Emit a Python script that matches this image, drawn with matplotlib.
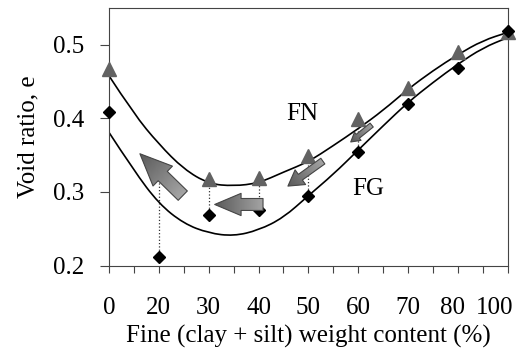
import matplotlib
matplotlib.use('Agg')
import matplotlib.pyplot as plt
import numpy as np
from matplotlib.patches import FancyArrowPatch, PathPatch
from matplotlib.path import Path
from matplotlib.transforms import ScaledTranslation

plt.rcParams['font.family'] = ['Liberation Serif', 'DejaVu Serif']

# ── data ──
fine_labels = ['0', '20', '30', '40', '50', '60', '70', '80', '100']
fn_void = [0.467, 0.326, 0.317, 0.319, 0.349, 0.399, 0.441, 0.491, 0.517]
fg_void = [0.409, 0.212, 0.269, 0.275, 0.294, 0.354, 0.419, 0.469, 0.519]

# trend curves, sampled every half category
curve_pos = [i * 0.5 for i in range(17)]
fn_curve = [0.458, 0.406, 0.365, 0.331, 0.311, 0.308, 0.312, 0.327, 0.341,
            0.363, 0.386, 0.411, 0.440, 0.465, 0.487, 0.506, 0.517]
fg_curve = [0.381, 0.329, 0.284, 0.257, 0.244, 0.240, 0.248, 0.265, 0.295,
            0.324, 0.357, 0.390, 0.422, 0.449, 0.474, 0.496, 0.510]

# arrows: tail -> tip, tail width / head width / head length (pt)
arrows = [
    ((1.48, 0.295), (0.62, 0.352), 9.4, 20, 23),
    ((3.09, 0.283), (2.12, 0.283), 8.6, 16, 19),
    ((4.29, 0.342), (3.59, 0.308), 5.0, 13, 11),
    ((5.27, 0.391), (4.85, 0.368), 3.6, 7.5, 6.5),
]


def smooth_path(xs, ys):
    # quadratic bezier through the midpoints, read points act as controls
    pts = list(zip(xs, ys))
    verts = [pts[0]]
    codes = [Path.MOVETO]
    for i in range(1, len(pts) - 1):
        mid = ((pts[i][0] + pts[i + 1][0]) / 2, (pts[i][1] + pts[i + 1][1]) / 2)
        verts += [pts[i], mid]
        codes += [Path.CURVE3, Path.CURVE3]
    verts.append(pts[-1])
    codes.append(Path.LINETO)
    return Path(verts, codes)


def block_arrow(tail, tip, tw, hw, hl, **kw):
    return FancyArrowPatch(
        tail, tip,
        arrowstyle=f'simple,head_width={hw},head_length={hl},tail_width={tw}',
        mutation_scale=1, shrinkA=0, shrinkB=0, **kw)


fig = plt.figure(figsize=(5.24, 3.54), dpi=100)
ax = fig.add_axes([0.208, 0.25, 0.761, 0.727])

x = list(range(len(fine_labels)))

# dotted drops between the two series
for i in range(1, 6):
    ax.plot([x[i], x[i]], [fg_void[i], fn_void[i]], ':', color='#333333',
            lw=0.9, zorder=1)

for ys in (fn_curve, fg_curve):
    ax.add_patch(PathPatch(smooth_path(curve_pos, ys), facecolor='none',
                           edgecolor='black', lw=1.2, zorder=2))

ax.plot(x, fn_void, '^', color='#626262', ms=10.5, ls='none',
        clip_on=False, zorder=3)
ax.plot(x, fg_void, 'D', color='black', ms=6, ls='none',
        clip_on=False, zorder=4)

# gradient block arrows (darker at the tip, paler at the tail)
px_x, px_y = 49.9, 736.0   # rough pixels per data unit, for the gradient only
for (tail, tip, tw, hw, hl) in arrows:
    base = block_arrow(tail, tip, tw, hw, hl, facecolor='#8c8c8c',
                       edgecolor='none', zorder=4.5)
    ax.add_patch(base)
    ax.add_patch(block_arrow(tail, tip, tw, hw, hl, facecolor='none',
                             edgecolor='#474747', lw=0.8, zorder=6))
    pad = 0.3
    x0, x1 = min(tail[0], tip[0]) - pad, max(tail[0], tip[0]) + pad
    y0, y1 = min(tail[1], tip[1]) - pad * 0.1, max(tail[1], tip[1]) + pad * 0.1
    gx, gy = np.meshgrid(np.linspace(x0, x1, 80), np.linspace(y0, y1, 80))
    dx, dy = (tail[0] - tip[0]) * px_x, (tail[1] - tip[1]) * px_y
    L2 = dx * dx + dy * dy
    g = ((gx - tip[0]) * px_x * dx + (gy - tip[1]) * px_y * dy) / L2
    g = np.clip(g, 0, 1)
    im = ax.imshow(g, extent=(x0, x1, y0, y1), origin='lower', cmap='gray',
                   vmin=-1.2, vmax=2.2, aspect='auto',
                   interpolation='bilinear', zorder=5)
    im.set_clip_path(base)

ax.text(3.87, 0.406, 'FN', fontsize=18, ha='center', va='center')
ax.text(5.2, 0.304, 'FG', fontsize=18, ha='center', va='center')

ax.set_xlim(0, 8)
ax.set_ylim(0.2, 0.55)
ax.set_xticks(x)
ax.set_xticklabels(fine_labels)
ax.set_xticks([i + 0.5 for i in range(8)], minor=True)
ax.set_yticks([0.2, 0.3, 0.4, 0.5])
ax.set_yticklabels(['0.2', '0.3', '0.4', '0.5'])

ax.tick_params(axis='x', which='both', direction='out', length=5,
               width=0.8, color='#444444', pad=18, labelsize=18)
ax.tick_params(axis='y', direction='out', length=6.5, width=0.8,
               color='#444444', pad=11, labelsize=18)
for s in ax.spines.values():
    s.set_color('#444444')
    s.set_linewidth(0.8)

# keep "100" inside the figure, like the original; nudge "80" a little too
labels = ax.get_xticklabels()
for lab, shift in ((labels[-2], -0.05), (labels[-1], -0.13)):
    lab.set_transform(lab.get_transform()
                      + ScaledTranslation(shift, 0, fig.dpi_scale_trans))

ax.set_xlabel('Fine (clay + silt) weight content (%)', fontsize=18,
              labelpad=4)
ax.set_ylabel('Void ratio, e', fontsize=18, labelpad=10)

fig.savefig('out.png', dpi=100)
